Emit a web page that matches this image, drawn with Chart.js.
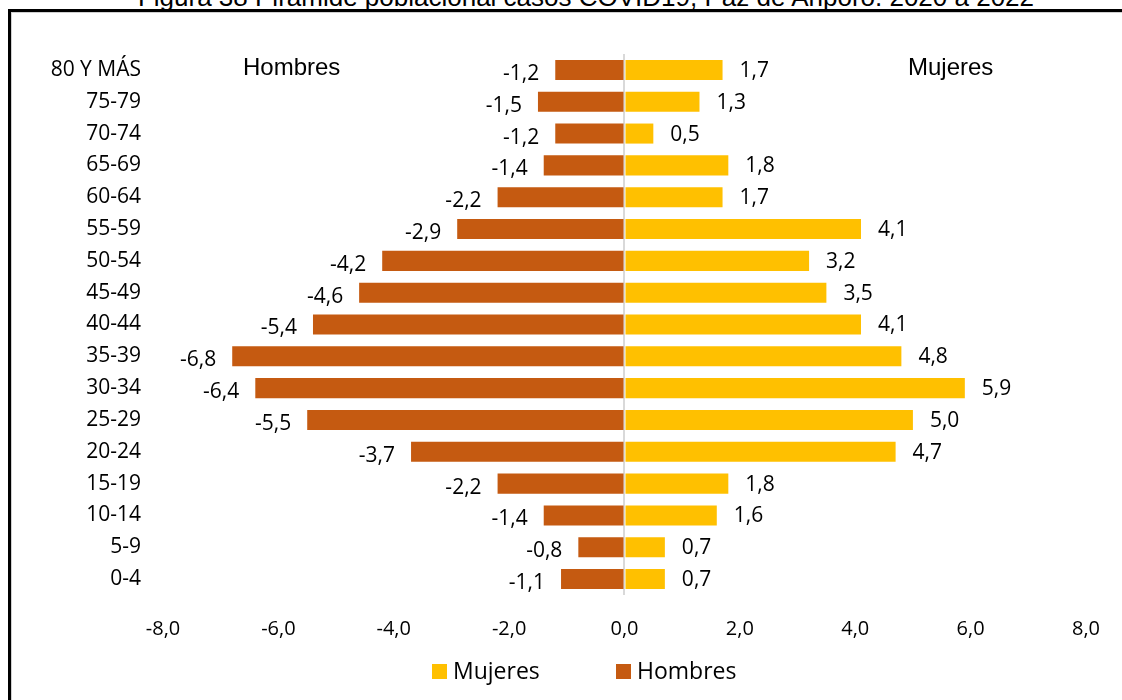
<!DOCTYPE html>
<html>
<head>
<meta charset="utf-8">
<script src="https://cdn.jsdelivr.net/npm/chart.js@4.4.1/dist/chart.umd.min.js"></script>
<style>
  html, body { margin: 0; padding: 0; background: #fff; }
  body { width: 1122px; height: 700px; position: relative; overflow: hidden; }
  #title { position: absolute; left: 0; width: 1172px; top: -18px; text-align: center; line-height: 30px;
           font-family: "Liberation Sans", Arial, sans-serif; font-size: 26px; color: #000; white-space: nowrap; }
  #frame { position: absolute; left: 8px; top: 9px; width: 1130px; height: 720px;
           border-left: 3px solid #000; border-top: 3px solid #000; box-sizing: border-box; }
  #frame2 { position: absolute; left: 11px; top: 12px; width: 1130px; height: 720px;
           border-left: 1px solid #d0d0d0; border-top: 1px solid #d0d0d0; box-sizing: border-box; }
  #wrap { position: absolute; left: 0; top: 0; width: 1122px; height: 700px; }
</style>
</head>
<body>
<div id="title">Figura 38 Pirámide poblacional casos COVID19, Paz de Ariporo.  2020 a 2022</div>
<div id="frame"></div>
<div id="frame2"></div>
<div id="wrap"><canvas id="c" width="1122" height="700"></canvas></div>
<script>
const categories = ["80 Y MÁS","75-79","70-74","65-69","60-64","55-59","50-54","45-49","40-44","35-39","30-34","25-29","20-24","15-19","10-14","5-9","0-4"];
const mujeres = [1.7,1.3,0.5,1.8,1.7,4.1,3.2,3.5,4.1,4.8,5.9,5.0,4.7,1.8,1.6,0.7,0.7];
const hombres = [-1.2,-1.5,-1.2,-1.4,-2.2,-2.9,-4.2,-4.6,-5.4,-6.8,-6.4,-5.5,-3.7,-2.2,-1.4,-0.8,-1.1];
const xTicks = [-8,-6,-4,-2,0,2,4,6,8];

const fmt = v => v.toFixed(1).replace('.', ',');
const FONT = '"Open Sans", "Noto Sans", sans-serif';

const valueLabels = {
  id: 'valueLabels',
  afterDatasetsDraw(chart) {
    const ctx = chart.ctx;
    ctx.save();
    ctx.font = '21px ' + FONT;
    ctx.fillStyle = '#000';
    ctx.textBaseline = 'middle';
    chart.data.datasets.forEach((ds, i) => {
      const meta = chart.getDatasetMeta(i);
      meta.data.forEach((bar, j) => {
        const v = ds.data[j];
        if (v >= 0) {
          ctx.textAlign = 'left';
          ctx.fillText(fmt(v), bar.x + 17, bar.y + 1);
        } else {
          ctx.textAlign = 'right';
          ctx.fillText(fmt(v), bar.x - 16, bar.y + 4);
        }
      });
    });
    ctx.restore();
  }
};

const extras = {
  id: 'extras',
  afterDraw(chart) {
    const ctx = chart.ctx;
    ctx.save();
    ctx.font = '24px "Liberation Sans", Arial, sans-serif';
    ctx.fillStyle = '#000';
    ctx.textBaseline = 'middle';
    ctx.textAlign = 'left';
    ctx.fillText('Hombres', 243, 68);
    ctx.fillText('Mujeres', 908, 68);
    const items = [
      { ds: chart.data.datasets[0], x: 432 },
      { ds: chart.data.datasets[1], x: 616 }
    ];
    ctx.font = '23px ' + FONT;
    items.forEach(it => {
      ctx.fillStyle = it.ds.backgroundColor;
      ctx.fillRect(it.x, 664, 15, 15);
      ctx.fillStyle = '#000';
      ctx.fillText(it.ds.label, it.x + 21, 672);
    });
    ctx.restore();
  }
};

new Chart(document.getElementById('c'), {
  type: 'bar',
  data: {
    labels: categories,
    datasets: [
      { label: 'Mujeres', data: mujeres, backgroundColor: '#FFC000', borderWidth: 0,
        barPercentage: 0.63, categoryPercentage: 1.0 },
      { label: 'Hombres', data: hombres, backgroundColor: '#C55A11', borderWidth: 0,
        barPercentage: 0.63, categoryPercentage: 1.0 }
    ]
  },
  options: {
    indexAxis: 'y',
    responsive: false,
    animation: false,
    layout: { padding: { left: 0, right: 35, top: 54, bottom: 0 } },
    scales: {
      x: {
        stacked: true,
        min: -8, max: 8,
        afterBuildTicks: s => { s.ticks = xTicks.map(v => ({ value: v })); },
        afterFit: s => { s.height = 105; },
        ticks: {
          callback: v => fmt(v),
          font: { family: FONT, size: 20 },
          color: '#000',
          padding: 22,
          maxRotation: 0
        },
        grid: {
          drawTicks: false,
          color: ctx => (ctx.tick && ctx.tick.value === 0) ? '#d9d9d9' : 'rgba(0,0,0,0)',
          lineWidth: 2
        },
        border: { display: false }
      },
      y: {
        stacked: true,
        afterFit: s => { s.width = 163; },
        ticks: {
          font: { family: FONT, size: 21 },
          color: '#000',
          padding: 22,
          autoSkip: false
        },
        grid: { display: false, drawTicks: false },
        border: { display: false }
      }
    },
    plugins: {
      legend: { display: false },
      tooltip: { enabled: false }
    }
  },
  plugins: [valueLabels, extras]
});
</script>
</body>
</html>
